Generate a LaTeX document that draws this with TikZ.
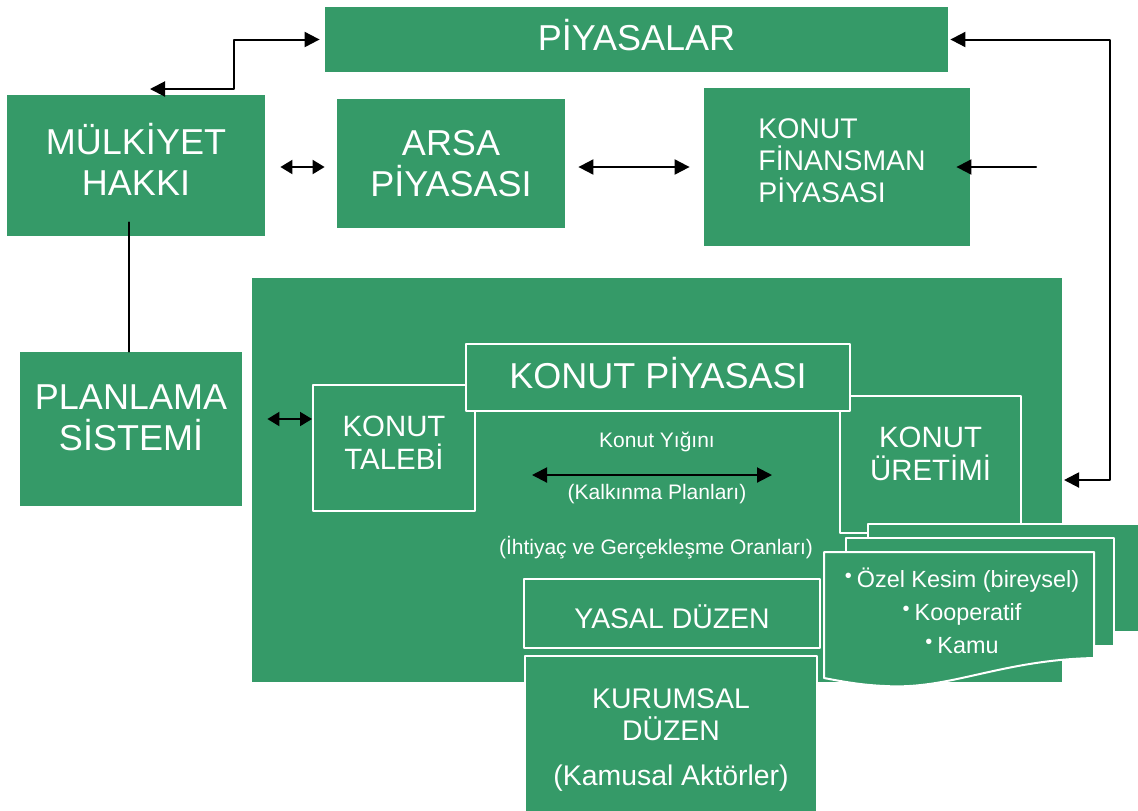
\documentclass[tikz,border=0pt]{standalone}
\usepackage{fontspec}
\setmainfont{Liberation Sans}
\usetikzlibrary{arrows.meta,positioning,calc}
\definecolor{kgreen}{RGB}{53,154,104}
\newcommand{\fsA}{\fontsize{18pt}{20.5pt}\selectfont}
\newcommand{\fsB}{\fontsize{14.7pt}{16.5pt}\selectfont}
\newcommand{\fsC}{\fontsize{14.2pt}{16pt}\selectfont}
\newcommand{\fsD}{\fontsize{11.7pt}{16.5pt}\selectfont}
\newcommand{\fsE}{\fontsize{10.5pt}{12pt}\selectfont}
\newcommand{\blt}{{\fontsize{10pt}{10pt}\selectfont\raisebox{2.5pt}{•}}\hspace{2.5pt}}

\begin{document}
\begin{tikzpicture}[x=0.5pt,y=-0.5pt,line cap=round,line join=round,
    gbox/.style={fill=kgreen,text=white,align=center,inner sep=0pt},
    wbox/.style={gbox,draw=white,line width=1pt},
    page/.style={fill=kgreen,draw=white,line width=1pt},
    lbl/.style={text=white,align=center,inner sep=0pt},
    tip/.style={line width=1pt,-{Triangle[length=7.5pt,width=7.5pt]}},
    both/.style={line width=1pt,{Triangle[length=7.5pt,width=7.5pt]}-{Triangle[length=7.5pt,width=7.5pt]}},
    bothm/.style={line width=1pt,{Triangle[length=6pt,width=7pt]}-{Triangle[length=6pt,width=7pt]}}]
    \useasboundingbox (0,0) rectangle (1138,810);

    % ust sira
    \node[gbox,minimum width=311.5pt,minimum height=32.5pt] (piyasa) at (636.5,39.5) {};
    \node[lbl,font=\fsA] (piyasatxt) at (636.5,35) {PİYASALAR};
    \node[gbox,minimum width=129pt,minimum height=70.5pt] (mulk) at (136,165.5) {};
    \node[lbl,font=\fsA] (mulktxt) at (136,159) {MÜLKİYET\\HAKKI};
    \node[gbox,minimum width=114pt,minimum height=64.5pt,font=\fsA] (arsa) at (451,163.5) {ARSA\\PİYASASI};
    \node[gbox,minimum width=133pt,minimum height=79pt] (finans) at (837,167) {};
    \node[lbl,align=left,font=\fsC,anchor=west] (finanstxt) at (758,161) {KONUT\\FİNANSMAN\\PİYASASI};

    % konut piyasasi
    \node[gbox,minimum width=405pt,minimum height=202pt] (konutbg) at (657,480) {};
    \node[gbox,minimum width=111pt,minimum height=77pt] (plan) at (131,429) {};
    \node[lbl,font=\fsA] (plantxt) at (131,418) {PLANLAMA\\SİSTEMİ};
    \node[wbox,minimum width=81pt,minimum height=63pt] (talep) at (394,448) {};
    \node[lbl,font=\fsB] (taleptxt) at (394,443) {KONUT\\TALEBİ};
    \node[wbox,minimum width=90.5pt,minimum height=68.5pt] (uretim) at (930.5,464.5) {};
    \node[lbl,font=\fsB] (uretimtxt) at (930.5,454) {KONUT\\ÜRETİMİ};
    \node[wbox,minimum width=192pt,minimum height=33.5pt] (kpiy) at (658,377.5) {};
    \node[lbl,font=\fsA] (kpiytxt) at (658,373) {KONUT PİYASASI};

    \node[lbl,font=\fsE] (yigin) at (657,442) {Konut Yığını};
    \coordinate (y1) at (532,475);
    \coordinate (y2) at (772,475);
    \node[lbl,font=\fsE] (kalk) at (657,494) {(Kalkınma Planları)};
    \node[lbl,font=\fsE] (ihti) at (656,548) {(İhtiyaç ve Gerçekleşme Oranları)};

    % aktorler
    \draw[page] (868,524) rectangle (1142,632);
    \draw[page] (846,538) rectangle (1114,646);
    \draw[page] (824,552) -- (1094,552) -- (1094,658) .. controls (1000,660) and (950,690) .. (885,686)
        .. controls (860,685) and (840,681) .. (824,678) -- cycle;
    \node[lbl,font=\fsD] (aktor) at (962,611) {\blt Özel Kesim (bireysel)\\\blt Kooperatif\\\blt Kamu};

    \node[wbox,minimum width=148pt,minimum height=34.5pt] (yasal) at (672,613.5) {};
    \node[lbl,font=\fsC] (yasaltxt) at (672,617) {YASAL DÜZEN};
    \node[wbox,minimum width=146pt,minimum height=80pt] (kurum) at (671,736) {};
    \node[lbl,font=\fsC,anchor=north] (kurumtxt) at (671,688) {KURUMSAL\\DÜZEN\\[6.5pt](Kamusal Aktörler)};

    % oklar
    \coordinate (m1) at (150,89);
    \draw[both] (m1) -| ([xshift=-45.5pt]piyasa.west) -- ([xshift=-2.5pt]piyasa.west);
    \coordinate (u1) at (1064,480);
    \draw[both] (u1) -- (1110,480) |- ([xshift=1pt]piyasa.east);
    \draw[bothm,shorten <=7.5pt,shorten >=6pt] (mulk.east |- 0,167) -- (arsa.west |- 0,167);
    \draw[both,shorten <=6.5pt,shorten >=7pt] (arsa.east |- 0,167) -- (finans.west |- 0,167);
    \coordinate (f1) at (1036,167);
    \draw[tip] (f1) -- ([xshift=-7pt]finans.east |- f1);
    \draw[line width=1pt] ([yshift=7pt]mulk.south -| 129,0) -- (plan.north -| 129,0);
    \draw[bothm,shorten <=12.5pt] (plan.east |- 0,419) -- (talep.west |- 0,419);
    \draw[both] (y1) -- (y2);
\end{tikzpicture}
\end{document}
